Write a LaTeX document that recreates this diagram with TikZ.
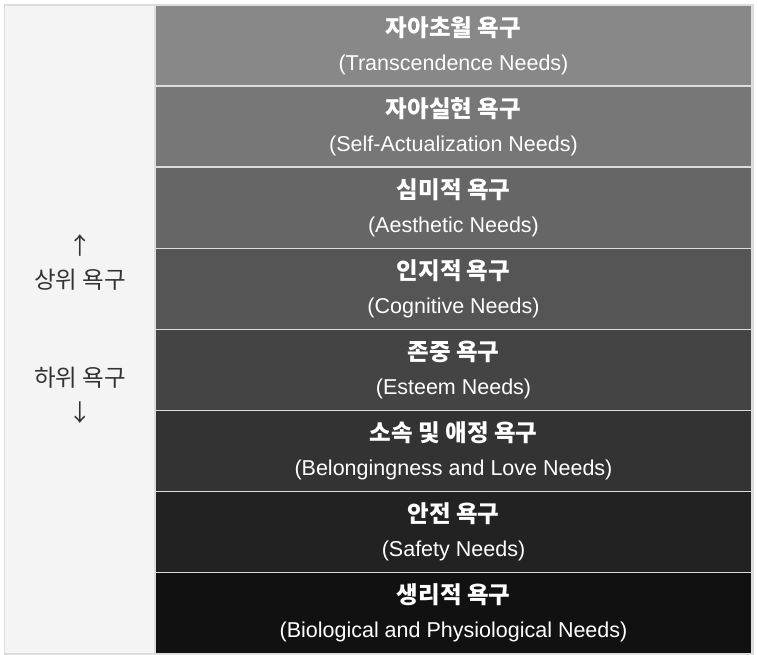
\documentclass[tikz,border=0pt]{standalone}
\usepackage{fontspec}
\setmainfont{Liberation Sans}
\newfontfamily\kr{Noto Sans CJK KR}
\usetikzlibrary{positioning}

\definecolor{linegray}{HTML}{DDDDDD}
\definecolor{sidegray}{HTML}{F4F4F4}
\definecolor{labelgray}{HTML}{333333}
\newcommand{\krtitle}[1]{{\kr\bfseries\fontsize{23.5}{34}\selectfont #1}}

\begin{document}
\begin{tikzpicture}[
    x=1pt, y=1pt,
    node distance=0pt,
    level/.style={rectangle, draw=linegray, line width=1.5pt, minimum width=597pt, minimum height=81.1pt, inner sep=0pt, outer sep=0pt, text=white, align=center, font=\fontsize{21.5}{34}\selectfont},
    sidelabel/.style={text=labelgray, font=\kr\fontsize{23.5}{28}\selectfont}
]
\useasboundingbox (0,0) rectangle (757,-655);

% Frame and side column
\draw[linegray, line width=1.5pt, fill=sidegray] (4.5,-5) rectangle (753,-654);

% Levels of needs
\node[level, fill={rgb,255:red,136;green,136;blue,136}] (transc) at (453.5,-45.5) {\krtitle{자아초월 욕구}\\(Transcendence Needs)};
\node[level, fill={rgb,255:red,119;green,119;blue,119}, below=of transc] (selfact) {\krtitle{자아실현 욕구}\\(Self-Actualization Needs)};
\node[level, fill={rgb,255:red,102;green,102;blue,102}, below=of selfact] (aesth) {\krtitle{심미적 욕구}\\(Aesthetic Needs)};
\node[level, fill={rgb,255:red,85;green,85;blue,85}, below=of aesth] (cogn) {\krtitle{인지적 욕구}\\(Cognitive Needs)};
\node[level, fill={rgb,255:red,68;green,68;blue,68}, below=of cogn] (esteem) {\krtitle{존중 욕구}\\(Esteem Needs)};
\node[level, fill={rgb,255:red,51;green,51;blue,51}, below=of esteem] (belong) {\krtitle{소속 및 애정 욕구}\\(Belongingness and Love Needs)};
\node[level, fill={rgb,255:red,34;green,34;blue,34}, below=of belong] (safety) {\krtitle{안전 욕구}\\(Safety Needs)};
\node[level, fill={rgb,255:red,17;green,17;blue,17}, below=of safety] (bio) {\krtitle{생리적 욕구}\\(Biological and Physiological Needs)};

% Side labels
\node[sidelabel] (upper) at (80,-280) {상위 욕구};
\node[sidelabel, above=6pt of upper] (uparr) {↑};
\node[sidelabel] (lower) at (80,-378) {하위 욕구};
\node[sidelabel, below=6pt of lower] (downarr) {↓};

\end{tikzpicture}
\end{document}
